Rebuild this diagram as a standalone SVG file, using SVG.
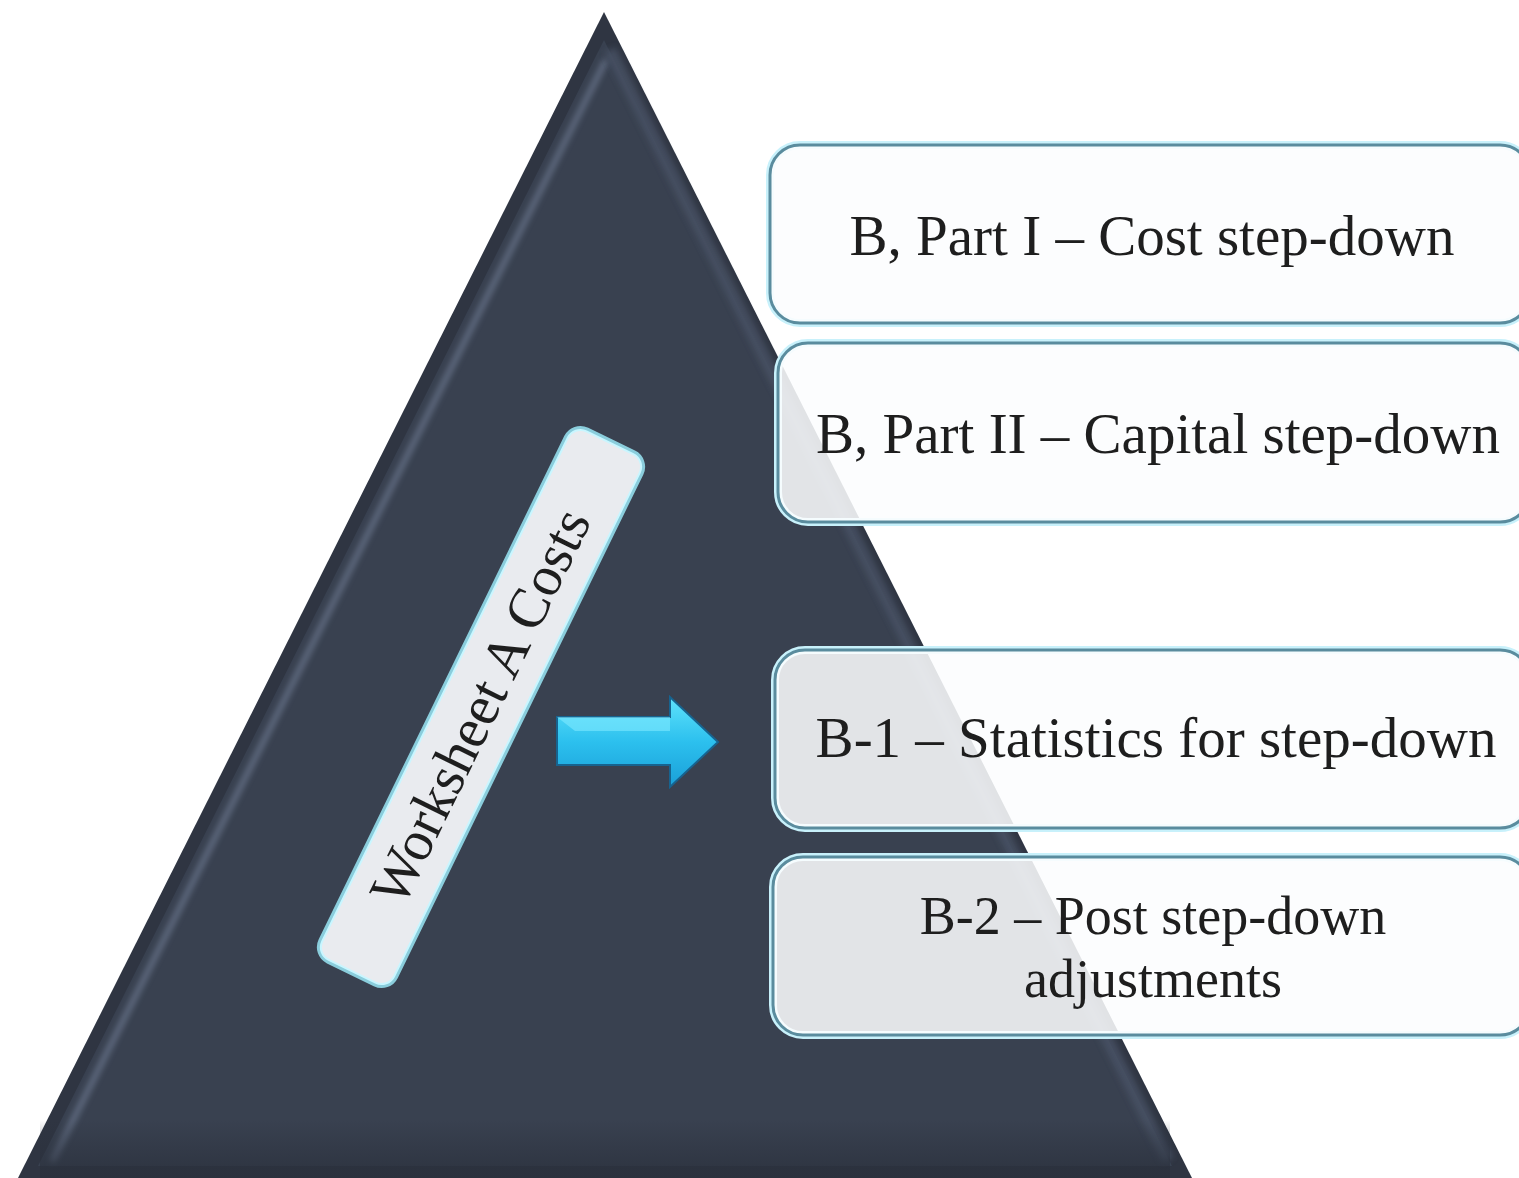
<svg xmlns="http://www.w3.org/2000/svg" width="1519" height="1178" viewBox="0 0 1519 1178">
<style>
.box{fill:#fbfdfe;fill-opacity:0.87;stroke:#5a8c9e;stroke-width:3}
.glow{fill:none;stroke:#c8f1fb;stroke-width:8}
.t{font-family:"Liberation Serif","Times New Roman",serif;font-size:57px;fill:#1e1e1e;text-anchor:middle}
.t2{font-size:54px}
</style>
<defs>
<linearGradient id="arrowG" x1="0" y1="0" x2="0" y2="1">
<stop offset="0" stop-color="#5fe2fb"/>
<stop offset="0.5" stop-color="#2cc0ee"/>
<stop offset="1" stop-color="#1a9fd8"/>
</linearGradient>
<linearGradient id="triBottom" x1="0" y1="0" x2="0" y2="1">
<stop offset="0" stop-color="#2a303c" stop-opacity="0"/>
<stop offset="1" stop-color="#2a303c" stop-opacity="0.8"/>
</linearGradient>
<filter id="blur3"><feGaussianBlur stdDeviation="3"/></filter>
</defs>
<rect width="1519" height="1178" fill="#ffffff"/>
<g id="pyramid">
<polygon points="604,12 18,1178 1192,1178" fill="#2f3542"/>
<polygon points="604,40 38,1166 1172,1166" fill="#394150"/>
<line x1="606" y1="60" x2="52" y2="1162" stroke="#7a88a2" stroke-width="5" opacity="0.7" filter="url(#blur3)"/>
<line x1="610" y1="50" x2="1168" y2="1160" stroke="#4a5366" stroke-width="12" opacity="0.8" filter="url(#blur3)"/>
<rect x="40" y="1120" width="1130" height="58" fill="url(#triBottom)"/>
</g>
<g id="box1">
<rect class="glow" x="770" y="145" width="760" height="178" rx="30"/>
<rect class="box" x="770" y="145" width="760" height="178" rx="30"/>
<text class="t" x="1152" y="255">B, Part I – Cost step-down</text>
</g>
<g id="box2">
<rect class="glow" x="778" y="343" width="752" height="179" rx="30"/>
<rect class="box" x="778" y="343" width="752" height="179" rx="30"/>
<text class="t" x="1158" y="453">B, Part II – Capital step-down</text>
</g>
<g id="box3">
<rect class="glow" x="775" y="650" width="755" height="178" rx="30"/>
<rect class="box" x="775" y="650" width="755" height="178" rx="30"/>
<text class="t" x="1156" y="757">B-1 – Statistics for step-down</text>
</g>
<g id="box4">
<rect class="glow" x="773" y="857" width="757" height="178" rx="30"/>
<rect class="box" x="773" y="857" width="757" height="178" rx="30"/>
<text class="t t2" x="1153" y="934">B-2 – Post step-down</text>
<text class="t t2" x="1153" y="997">adjustments</text>
</g>
<g id="label" transform="translate(481,707) rotate(-64)">
<rect x="-294" y="-40" width="588" height="80" rx="14" fill="none" stroke="#9ff0ff" stroke-width="8" opacity="0.8"/>
<rect x="-294" y="-40" width="588" height="80" rx="14" fill="#e9ebef" stroke="#c9f6ff" stroke-width="2"/>
<text class="t" x="0" y="18" font-size="56">Worksheet A Costs</text>
</g>
<g id="connectors">
<polygon points="557,717 670,717 670,697 718,742 670,787 670,765 557,765" fill="url(#arrowG)" stroke="#17638f" stroke-width="2"/>
<polygon points="557,717 670,717 670,731 575,731" fill="#7eeaff" opacity="0.6"/>
</g>
</svg>
